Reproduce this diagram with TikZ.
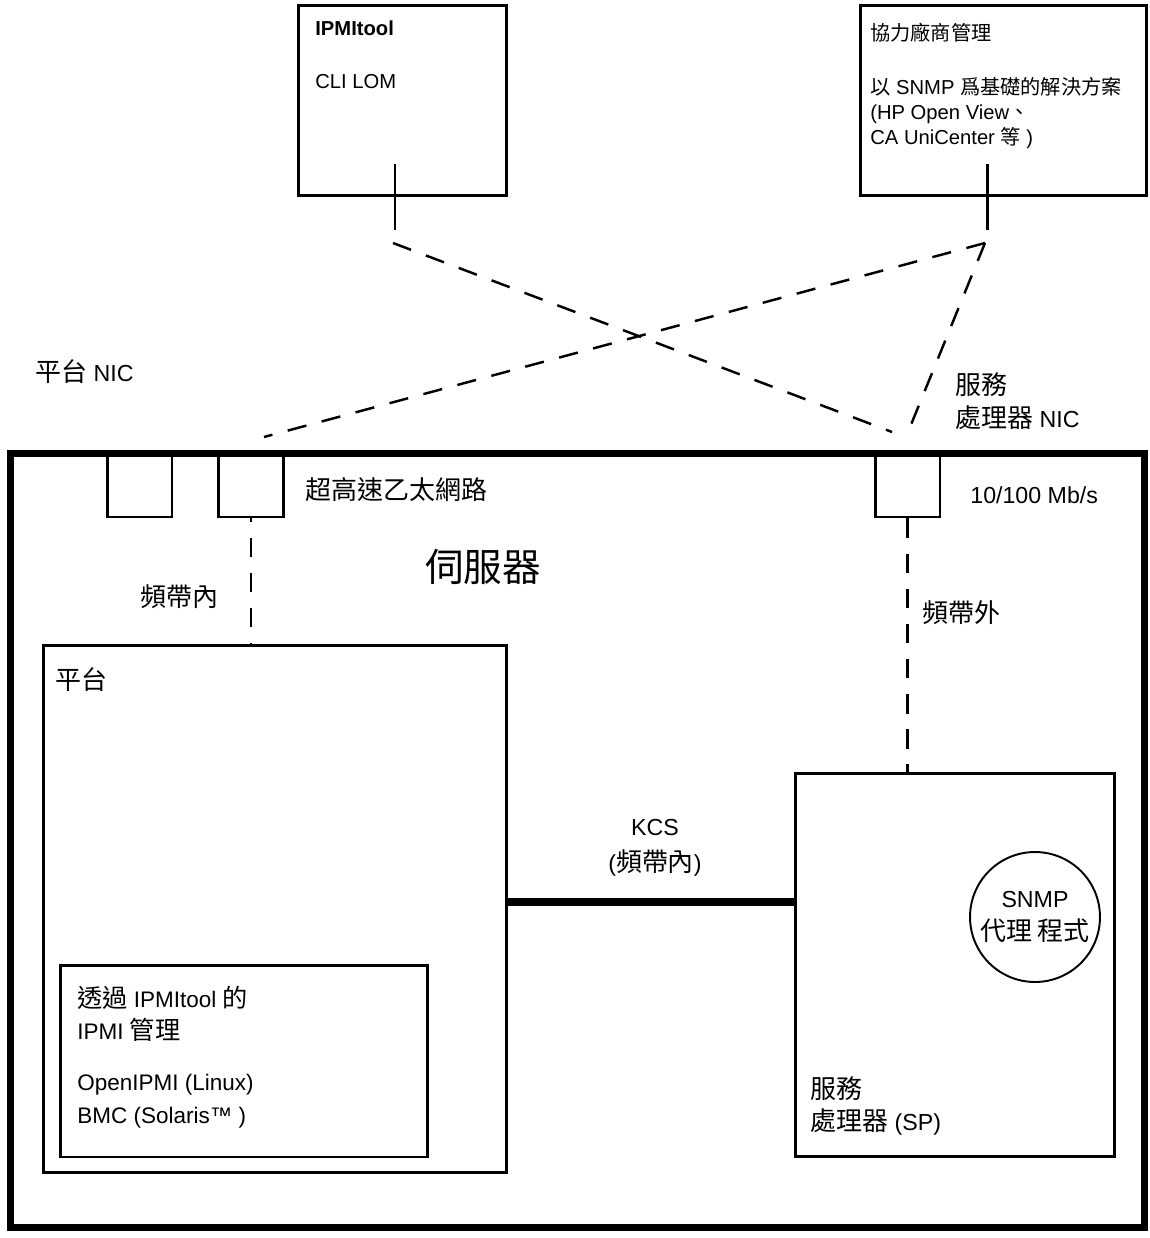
\documentclass[tikz,border=0pt]{standalone}
\usepackage{fontspec}
\setmainfont{Liberation Sans}
\newfontfamily\cjk{Noto Sans CJK TC}
\newfontfamily\cjkb[Scale=1.12]{Noto Sans CJK TC}
\usepackage{tikz}
\usetikzlibrary{positioning}

\begin{document}
\begin{tikzpicture}[x=0.02cm, y=-0.02cm,
    box/.style={draw, line width=1.7pt, inner sep=0pt},
    nicbox/.style={draw, line width=1.7pt, minimum width=1.3cm, minimum height=1.28cm, inner sep=0pt},
    net/.style={line width=1.4pt, dash pattern=on 11pt off 9pt},
    lbl/.style={anchor=west, inner sep=0pt, align=left, font=\fontsize{13.2}{18.6}\selectfont},
    smalllbl/.style={anchor=west, inner sep=0pt, align=left, font=\fontsize{11.5}{14.2}\selectfont}]
    \useasboundingbox (0,0) rectangle (1150,1238);

    % Management hosts
    \node[box, minimum width=4.18cm, minimum height=3.82cm] (ipmi) at (402.5,100.5) {};
    \node[box, minimum width=5.74cm, minimum height=3.82cm] (tpm) at (1003.5,100.5) {};
    \node[smalllbl, font=\fontsize{11.5}{14.2}\selectfont\bfseries] (ipmititle) at (315,28) {IPMItool};
    \node[smalllbl] (cli) at (315,82) {CLI LOM};
    \node[smalllbl] (tpmtitle) at (870,33) {\cjk 協力廠商管理};
    \node[smalllbl] (tpmtext) at (870,113) {{\cjk 以} SNMP {\cjk 爲基礎的解決方案}\\(HP Open View{\cjk 、}\\CA UniCenter {\cjk 等} )};

    % Server
    \node[draw, line width=4pt, minimum width=22.7cm, minimum height=15.5cm] (server) at (577.5,840.5) {};
    \node[font=\fontsize{22}{26}\selectfont\cjk] (servername) at (483,567) {伺服器};
    \node[nicbox] (nic1) at (139.5,485) {};
    \node[nicbox] (nic2) at (251,485) {};
    \node[nicbox] (spnic) at (907.5,485) {};
    \node[lbl] (gbe) at (305,490) {\cjkb 超高速乙太網路};
    \node[lbl] (fe) at (970,495) {10/100 Mb/s};
    \node[lbl] (platnic) at (35,372) {{\cjkb 平台} NIC};
    \node[lbl] (spniclbl) at (955,401.5) {{\cjkb 服務}\\{\cjkb 處理器} NIC};

    % Platform and SP
    \node[box, minimum width=9.28cm, minimum height=10.56cm] (platform) at (275,909) {};
    \node[lbl] (platname) at (55,680) {\cjkb 平台};
    \node[box, minimum width=7.36cm, minimum height=3.84cm] (ipmimgmt) at (244,1061) {};
    \node[lbl, font=\fontsize{12.8}{18.6}\selectfont] (mgmt1) at (77,1014) {{\cjkb 透過} IPMItool {\cjkb 的}\\IPMI {\cjkb 管理}};
    \node[lbl, font=\fontsize{12.8}{18.6}\selectfont] (mgmt2) at (77,1101.5) {OpenIPMI (Linux)\\BMC (Solaris™ )};
    \node[box, minimum width=6.4cm, minimum height=7.68cm] (sp) at (955,965) {};
    \node[lbl] (spname) at (810,1106) {{\cjkb 服務}\\{\cjkb 處理器} (SP)};
    \node[draw, circle, line width=1.1pt, minimum size=2.6cm, inner sep=0pt, align=center,
          font=\fontsize{13.2}{18.8}\selectfont] (snmp) at (1035,917) {SNMP\\{\cjkb 代理 程式}};

    % Network links
    \coordinate (ipmistub) at (395,164);
    \coordinate (ipmitail) at (395,230);
    \coordinate (tpmstub) at (987,164);
    \coordinate (tpmtail) at (987,230);
    \coordinate (ipmidash) at (393,243);
    \coordinate (tpmdash) at (985,243);
    \coordinate (platend) at (264,437);
    \coordinate (spend1) at (892,432);
    \coordinate (spend2) at (906,437);
    \draw[line width=1.7pt] (ipmistub) -- (ipmitail);
    \draw[line width=1.7pt] (tpmstub) -- (tpmtail);
    \draw[net] (ipmidash) -- (spend1);
    \draw[net] (tpmdash) -- (platend);
    \draw[net] (tpmdash) -- (spend2);
    \draw[net, dash phase=9pt] (nic2.south) -- (nic2.south |- platform.north);
    \draw[net] (spnic.south) -- (spnic.south |- sp.north);
    \node[lbl] (inband) at (140,597) {\cjkb 頻帶內};
    \node[lbl] (outband) at (922,613) {\cjkb 頻帶外};

    % KCS
    \coordinate (kcsy) at (0,902);
    \draw[line width=4pt] (platform.east |- kcsy) -- (sp.west |- kcsy);
    \node[align=center, inner sep=0pt, font=\fontsize{13.2}{20.5}\selectfont] (kcs) at (655,848) {KCS\\({\cjkb 頻帶內})};
\end{tikzpicture}
\end{document}
